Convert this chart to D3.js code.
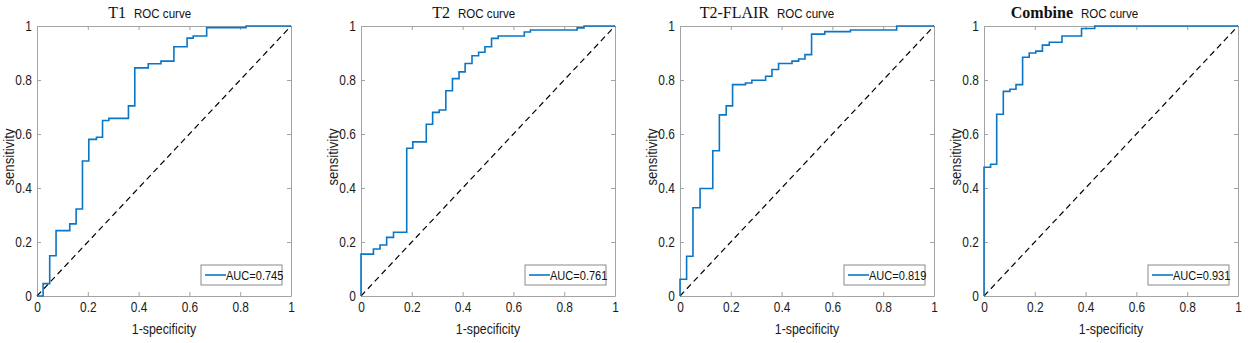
<!DOCTYPE html>
<html lang="en">
<head>
<meta charset="UTF-8">
<title>ROC curves</title>
<style>
    body { margin: 0; padding: 0; background: #fff; }
    svg { display: block; }
    .tick-label { font-family: "Liberation Sans", Arial, sans-serif; font-size: 14px; fill: #1a1a1a; }
    .axis-title { font-family: "Liberation Sans", Arial, sans-serif; font-size: 14.5px; fill: #1a1a1a; }
    .y-title { font-size: 15.5px; }
    .name { font-family: "Liberation Serif", "Times New Roman", serif; font-size: 16px; fill: #111; }
    .roc { font-family: "Liberation Sans", Arial, sans-serif; font-size: 13.6px; fill: #111; }
    .legend-text { font-family: "Liberation Sans", Arial, sans-serif; font-size: 13px; fill: #111; }
</style>
</head>
<body>
<svg id="chart"></svg>

<script src="https://d3js.org/d3.v7.min.js"></script>
<script>
    // panel names and AUC values
    var names = ["T1", "T2", "T2-FLAIR", "Combine"];
    var aucs = ["0.745", "0.761", "0.819", "0.931"];
    var ticks = [0, 0.2, 0.4, 0.6, 0.8, 1];

    // ROC corner points (1-specificity, sensitivity)
    var t1Fpr = [0, 0.024, 0.05, 0.075, 0.129, 0.154, 0.179, 0.204, 0.234, 0.258, 0.283, 0.36, 0.385, 0.438, 0.488, 0.539, 0.591, 0.615, 0.668, 0.823, 1];
    var t1Tpr = [0, 0.046, 0.149, 0.242, 0.267, 0.322, 0.5, 0.58, 0.588, 0.65, 0.658, 0.704, 0.845, 0.86, 0.87, 0.923, 0.955, 0.963, 0.994, 1, 1];

    var t2Fpr = [0, 0, 0.049, 0.075, 0.101, 0.128, 0.18, 0.204, 0.257, 0.282, 0.308, 0.334, 0.36, 0.386, 0.41, 0.437, 0.463, 0.488, 0.514, 0.54, 0.643, 0.667, 0.851, 0.878, 1];
    var t2Tpr = [0, 0.155, 0.174, 0.189, 0.217, 0.236, 0.547, 0.571, 0.636, 0.68, 0.689, 0.76, 0.805, 0.83, 0.861, 0.89, 0.903, 0.923, 0.954, 0.963, 0.978, 0.985, 0.993, 1, 1];

    var flairFpr = [0, 0, 0.026, 0.051, 0.079, 0.129, 0.155, 0.182, 0.207, 0.258, 0.283, 0.337, 0.362, 0.388, 0.441, 0.467, 0.492, 0.518, 0.57, 0.671, 0.853, 1];
    var flairTpr = [0, 0.062, 0.147, 0.327, 0.398, 0.538, 0.671, 0.704, 0.783, 0.789, 0.799, 0.814, 0.839, 0.861, 0.87, 0.878, 0.894, 0.97, 0.979, 0.985, 1, 1];

    var combFpr = [0, 0, 0.026, 0.05, 0.076, 0.102, 0.126, 0.152, 0.178, 0.204, 0.23, 0.257, 0.307, 0.384, 0.436, 1];
    var combTpr = [0, 0.477, 0.488, 0.673, 0.758, 0.766, 0.783, 0.884, 0.9, 0.907, 0.929, 0.94, 0.963, 0.991, 1, 1];

    var fprs = [t1Fpr, t2Fpr, flairFpr, combFpr];
    var tprs = [t1Tpr, t2Tpr, flairTpr, combTpr];

    (function () {
        var W = 1248, H = 343;
        var lefts = [37, 361, 680, 984];
        var pw = 254, plotTop = 26, ph = 270;
        var narrow = 0.85; // the figure uses a condensed sans font

        var svg = d3.select("#chart").attr("width", W).attr("height", H);

        var axisColor = "#a3a3a3";
        var blue = "#0a76c6";

        // text squeezed horizontally, placed at (px, py)
        function narrowText(parent, cls, px, py, rot, str) {
            return parent.append("text").attr("class", cls)
                .attr("transform", "translate(" + px + "," + py + ")" + (rot ? " rotate(" + rot + ")" : "") + " scale(" + narrow + ",1)")
                .text(str);
        }

        names.forEach(function (name, i) {
            var g = svg.append("g").attr("transform", "translate(" + lefts[i] + "," + plotTop + ")");

            var x = d3.scaleLinear().domain([0, 1]).range([0, pw]);
            var y = d3.scaleLinear().domain([0, 1]).range([ph, 0]);

            // inward ticks on all four sides, like a MATLAB box
            var fmt = d3.format("");
            var bottomAx = g.append("g").attr("transform", "translate(0," + ph + ")")
                .call(d3.axisBottom(x).tickValues(ticks).tickSizeInner(-4).tickSizeOuter(0).tickPadding(6).tickFormat(fmt));
            var leftAx = g.append("g")
                .call(d3.axisLeft(y).tickValues(ticks).tickSizeInner(-4).tickSizeOuter(0).tickPadding(6).tickFormat(fmt));
            var topAx = g.append("g")
                .call(d3.axisTop(x).tickValues(ticks).tickSizeInner(-4).tickSizeOuter(0).tickFormat(""));
            var rightAx = g.append("g").attr("transform", "translate(" + pw + ",0)")
                .call(d3.axisRight(y).tickValues(ticks).tickSizeInner(-4).tickSizeOuter(0).tickFormat(""));

            [bottomAx, leftAx, topAx, rightAx].forEach(function (a) {
                a.attr("font-family", null).attr("font-size", null);
                a.select(".domain").attr("stroke", axisColor);
                a.selectAll(".tick line").attr("stroke", axisColor);
                a.selectAll("text").attr("class", "tick-label").attr("fill", null)
                    .attr("transform", "scale(" + narrow + ",1)");
            });

            // diagonal reference line
            g.append("line")
                .attr("x1", x(0)).attr("y1", y(0))
                .attr("x2", x(1)).attr("y2", y(1))
                .attr("stroke", "#000").attr("stroke-width", 1.2)
                .attr("stroke-dasharray", "6,4");

            // ROC curve
            var pts = fprs[i].map(function (f, k) { return [f, tprs[i][k]]; });
            var line = d3.line()
                .x(function (d) { return x(d[0]); })
                .y(function (d) { return y(d[1]); })
                .curve(d3.curveStepAfter);
            g.append("path").datum(pts)
                .attr("fill", "none").attr("stroke", blue).attr("stroke-width", 1.6)
                .attr("d", line);

            // titles
            g.append("text").attr("class", "name")
                .attr("x", 89).attr("y", -8).attr("text-anchor", "end")
                .style("font-weight", name === "Combine" ? "bold" : "normal")
                .text(name);
            narrowText(g, "roc", 97, -8, 0, "ROC curve");

            narrowText(g, "axis-title", pw / 2, ph + 38, 0, "1-specificity")
                .attr("text-anchor", "middle");
            narrowText(g, "axis-title y-title", -23, ph / 2 - 4, -90, "sensitivity")
                .attr("text-anchor", "middle");

            // legend
            var lw = 81, lh = 20;
            var lg = g.append("g").attr("transform", "translate(" + (pw - 9 - lw) + "," + (ph - 11 - lh) + ")");
            lg.append("rect").attr("width", lw).attr("height", lh)
                .attr("fill", "#fff").attr("stroke", "#8a8a8a").attr("stroke-width", 1);
            lg.append("line").attr("x1", 4).attr("x2", 25).attr("y1", lh / 2).attr("y2", lh / 2)
                .attr("stroke", blue).attr("stroke-width", 1.6);
            narrowText(lg, "legend-text", 25, lh / 2 + 5, 0, "AUC=" + aucs[i]);
        });
    })();
</script>
</body>
</html>
